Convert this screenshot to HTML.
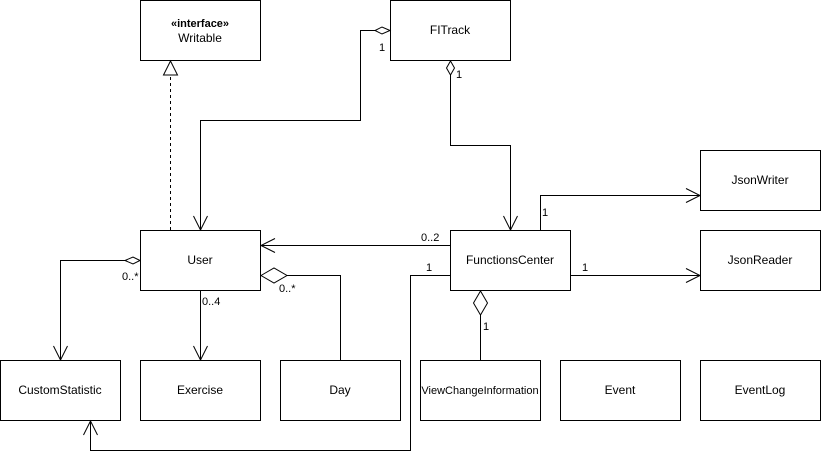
<!DOCTYPE html>
<html><head><meta charset="utf-8"><style>
html,body{margin:0;padding:0;background:#fff;}
svg{display:block;font-family:"Liberation Sans",Helvetica,Arial,sans-serif;}
</style></head><body>
<svg width="821" height="465" viewBox="0 0 821 465" xmlns="http://www.w3.org/2000/svg">
<g fill="#fff" stroke="#000" stroke-width="1">
<rect x="140.5" y="0.5" width="120" height="60"/>
<rect x="390.5" y="0.5" width="120" height="60"/>
<rect x="140.5" y="230.5" width="120" height="60"/>
<rect x="450.5" y="230.5" width="120" height="60"/>
<rect x="700.5" y="150.5" width="120" height="60"/>
<rect x="700.5" y="230.5" width="120" height="60"/>
<rect x="0.5" y="360.5" width="120" height="60"/>
<rect x="140.5" y="360.5" width="120" height="60"/>
<rect x="280.5" y="360.5" width="120" height="60"/>
<rect x="420.5" y="360.5" width="120" height="60"/>
<rect x="560.5" y="360.5" width="120" height="60"/>
<rect x="700.5" y="360.5" width="120" height="60"/>
</g>
<g font-size="12" text-anchor="middle" fill="#000">
<text x="200" y="27" font-size="11" font-weight="bold">«interface»</text>
<text x="200" y="42">Writable</text>
<text x="450" y="34">FITrack</text>
<text x="200" y="264">User</text>
<text x="510" y="264">FunctionsCenter</text>
<text x="760" y="184">JsonWriter</text>
<text x="760" y="264">JsonReader</text>
<text x="60" y="394">CustomStatistic</text>
<text x="200" y="394">Exercise</text>
<text x="340" y="394">Day</text>
<text x="480" y="394" font-size="11">ViewChangeInformation</text>
<text x="620" y="394">Event</text>
<text x="760" y="394">EventLog</text>
</g>
<g fill="none" stroke="#000" stroke-width="1">
<!-- realization -->
<path d="M170.5 230 V75" stroke-dasharray="3,3"/>
<path d="M170.5 61 L163.5 75 H177.5 Z" fill="#fff"/>
<!-- FITrack -> User -->
<path d="M390 30.5 L382 27 L375 30.5 L382 34 Z" fill="#fff"/>
<path d="M375 30.5 H360.5 V120.5 H200.5 V230"/>
<path d="M193.5 216 L200.5 230 L207.5 216"/>
<!-- FITrack -> FC -->
<path d="M450.5 61 L446.5 68 L450.5 75 L454.5 68 Z" fill="#fff"/>
<path d="M450.5 75 V145.5 H510.5 V230"/>
<path d="M503.5 216 L510.5 230 L517.5 216"/>
<!-- FC -> JsonWriter -->
<path d="M540.5 230 V195.5 H700"/>
<path d="M686 188.5 L700 195.5 L686 202.5"/>
<!-- FC -> User -->
<path d="M450 245.5 H261"/>
<path d="M275 238.5 L261 245.5 L275 252.5"/>
<!-- FC -> CustomStatistic -->
<path d="M450 275.5 H410.5 V450.5 H90.5 V421"/>
<path d="M83.5 435 L90.5 421 L97.5 435"/>
<!-- FC -> JsonReader -->
<path d="M571 275.5 H700"/>
<path d="M686 268.5 L700 275.5 L686 282.5"/>
<!-- FC <> VCI -->
<path d="M480.5 291 L473.5 303 L480.5 315 L487.5 303 Z" fill="#fff"/>
<path d="M480.5 315 V360"/>
<!-- User <> CustomStatistic -->
<path d="M140 260.5 L133 257 L125 260.5 L133 264 Z" fill="#fff"/>
<path d="M125 260.5 H60.5 V360"/>
<path d="M53.5 346 L60.5 360 L67.5 346"/>
<!-- User -> Exercise -->
<path d="M200.5 291 V360"/>
<path d="M193.5 346 L200.5 360 L207.5 346"/>
<!-- User <> Day -->
<path d="M261 275.5 L274 268 L287 275.5 L274 283 Z" fill="#fff"/>
<path d="M287 275.5 H340.5 V360"/>
</g>
<g font-size="11" fill="#000">
<text x="379" y="51">1</text>
<text x="456" y="78">1</text>
<text x="542" y="216">1</text>
<text x="421" y="241">0..2</text>
<text x="426" y="271">1</text>
<text x="582" y="271">1</text>
<text x="483" y="330">1</text>
<text x="122" y="280">0..*</text>
<text x="202" y="305">0..4</text>
<text x="279" y="292">0..*</text>
</g>
</svg>
</body></html>
